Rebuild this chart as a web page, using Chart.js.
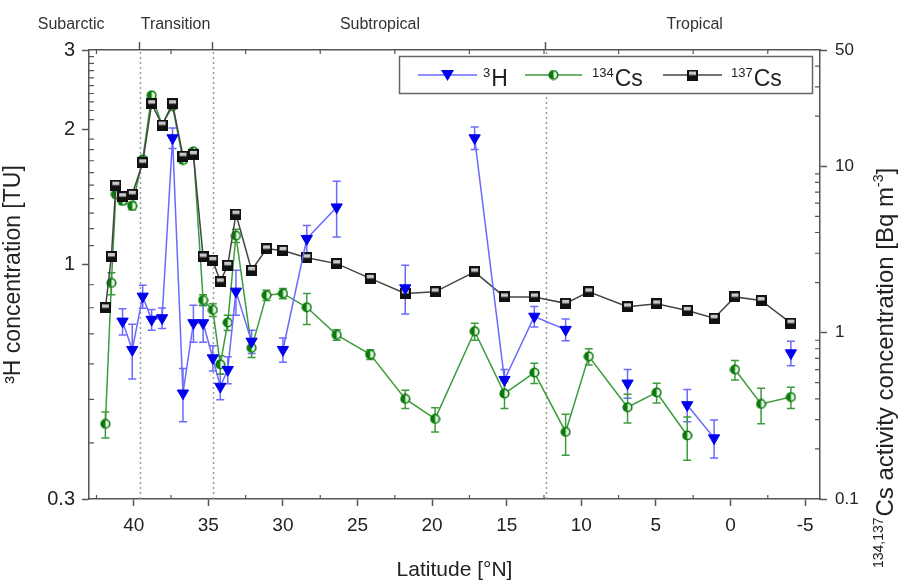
<!DOCTYPE html>
<html>
<head>
<meta charset="utf-8">
<script src="https://cdn.jsdelivr.net/npm/chart.js@4.4.0/dist/chart.umd.min.js"></script>
<style>
html, body { margin: 0; padding: 0; background: #fff; }
</style>
</head>
<body>
<canvas id="chart" width="901" height="587"></canvas>
<script>
// sampling stations, degrees north
const latitudes = [41.9, 41.5, 41.2, 40.75, 40.1, 39.4, 38.8, 38.1, 37.4, 36.7, 36.0, 35.35, 34.7, 34.2, 33.7, 33.15, 32.1, 31.1, 30.0, 28.4, 26.4, 24.15, 21.8, 19.8, 17.15, 15.15, 13.15, 11.05, 9.5, 6.9, 4.95, 2.9, 1.1, -0.3, -2.05, -4.05];

// 3H [TU]
const tritium = [null, null, null, 0.746, 0.645, 0.848, 0.753, 0.759, 1.91, 0.516, 0.74, 0.74, 0.618, 0.534, 0.582, 0.87, 0.673, null, 0.645, 1.14, 1.34, null, 0.885, null, 1.91, 0.553, 0.765, 0.715, null, 0.543, null, 0.486, 0.41, null, null, 0.634];
const tritiumErr = [null, null, null, 0.05, 0.09, 0.05, 0.04, 0.04, 0.1, 0.07, 0.07, 0.07, 0.04, 0.035, 0.04, 0.1, 0.04, null, 0.04, 0.08, 0.19, null, 0.11, null, 0.11, 0.03, 0.04, 0.04, null, 0.04, null, 0.04, 0.04, null, null, 0.04];

// 134Cs [Bq m-3]
const cs134 = [0.283, 1.99, 6.8, 6.19, 5.78, 11, 26.7, 17.7, 23, 10.9, 12.3, 1.57, 1.37, 0.645, 1.15, 3.83, 0.81, 1.68, 1.72, 1.42, 0.97, 0.74, 0.40, 0.303, 1.02, 0.43, 0.575, 0.253, 0.72, 0.356, 0.437, 0.241, null, 0.60, 0.373, 0.41];
const cs134Err = [0.05, 0.3, 0.3, 0.3, 0.3, 0.4, 0.8, 0.6, 0.8, 0.4, 0.4, 0.12, 0.12, 0.08, 0.12, 0.35, 0.1, 0.12, 0.12, 0.3, 0.07, 0.05, 0.05, 0.05, 0.12, 0.08, 0.08, 0.07, 0.08, 0.07, 0.06, 0.07, null, 0.08, 0.09, 0.06];

// 137Cs [Bq m-3]
const cs137 = [1.41, 2.87, 7.7, 6.57, 6.79, 10.5, 23.8, 17.7, 23.8, 11.5, 11.8, 2.85, 2.72, 2.02, 2.54, 5.16, 2.37, 3.19, 3.12, 2.82, 2.6, 2.12, 1.72, 1.76, 2.32, 1.64, 1.64, 1.50, 1.76, 1.43, 1.49, 1.36, 1.22, 1.64, 1.56, 1.14];
const cs137Err = [0.08, 0.15, 0.35, 0.3, 0.3, 0.5, 1.0, 0.8, 1.0, 0.5, 0.5, 0.15, 0.15, 0.1, 0.12, 0.25, 0.12, 0.15, 0.15, 0.13, 0.12, 0.1, 0.08, 0.08, 0.1, 0.08, 0.08, 0.07, 0.08, 0.07, 0.07, 0.07, 0.06, 0.08, 0.07, 0.06];

const latTicks = [40, 35, 30, 25, 20, 15, 10, 5, 0, -5];
const latMinor = [42.5, 37.5, 32.5, 27.5, 22.5, 17.5, 12.5, 7.5, 2.5, -2.5];
const tuTicks = [0.3, 1, 2, 3];
const tuMinor = [0.4, 0.5, 0.6, 0.7, 0.8, 0.9, 1.1, 1.2, 1.3, 1.4, 1.5, 1.6, 1.7, 1.8, 1.9, 2.1, 2.2, 2.3, 2.4, 2.5, 2.6, 2.7, 2.8, 2.9];
const bqTicks = [0.1, 1, 10, 50];
const bqMinor = [0.2, 0.3, 0.4, 0.5, 0.6, 0.7, 0.8, 0.9, 2, 3, 4, 5, 6, 7, 8, 9, 20, 30, 40];

// water mass boundaries and region names
const boundaries = [39.6, 34.7, 12.4];
const regionNames = ['Subarctic', 'Transition', 'Subtropical', 'Tropical'];
const regionCenters = [44.2, 37.2, 23.5, 2.4];

const FONT = "'Liberation Sans', Arial, sans-serif";

const toPoints = (vals) => latitudes.map((x, i) => ({x: x, y: vals[i]}))

const halfCircle = (size, color) => {
    const c = document.createElement('canvas');
    c.width = size; c.height = size;
    const g = c.getContext('2d');
    const m = size / 2, r = size / 2 - 1.2;
    g.fillStyle = '#e8f4e8';
    g.beginPath(); g.arc(m, m, r, 0, Math.PI * 2); g.fill();
    g.fillStyle = color;
    g.beginPath(); g.moveTo(m, m); g.arc(m, m, r, Math.PI / 2, Math.PI * 1.5); g.closePath(); g.fill();
    g.strokeStyle = color; g.lineWidth = 1.6;
    g.beginPath(); g.arc(m, m, r, 0, Math.PI * 2); g.stroke();
    return c;
}

const halfSquare = (size) => {
    const c = document.createElement('canvas');
    c.width = size; c.height = size;
    const g = c.getContext('2d');
    g.fillStyle = '#111';
    g.fillRect(0, 0, size, size);
    g.fillStyle = '#c8c8c8';
    g.fillRect(2, 2, size - 4, size / 2 - 2);
    return c;
}

const greenMark = halfCircle(11, '#0a7a0a');
const blackMark = halfSquare(11);

// draws text with a leading superscript part, left to right from x
const supText = (ctx, x, y, sup, main, supSize, mainSize, tail) => {
    ctx.font = supSize + 'px ' + FONT;
    ctx.fillText(sup, x, y - mainSize * 0.42);
    let w = ctx.measureText(sup).width;
    ctx.font = mainSize + 'px ' + FONT;
    ctx.fillText(main, x + w + 1, y);
    w += 1 + ctx.measureText(main).width;
    if (tail) {
        ctx.font = supSize + 'px ' + FONT;
        ctx.fillText(tail[0], x + w, y - mainSize * 0.42);
        w += ctx.measureText(tail[0]).width;
        ctx.font = mainSize + 'px ' + FONT;
        ctx.fillText(tail[1], x + w, y);
        w += ctx.measureText(tail[1]).width;
    }
    return w;
}

const errorBars = {
    id: 'errorBars',
    beforeDatasetsDraw(chart) {
        const ctx = chart.ctx;
        chart.data.datasets.forEach((ds) => {
            const errs = ds.errors;
            if (!errs) return;
            const ys = chart.scales[ds.yAxisID];
            const xs = chart.scales.x;
            ctx.save();
            ctx.strokeStyle = ds.errColor;
            ctx.lineWidth = 1.5;
            ds.data.forEach((p, i) => {
                if (p.y == null || errs[i] == null) return;
                const px = xs.getPixelForValue(p.x);
                const y1 = ys.getPixelForValue(p.y + errs[i]);
                const y2 = ys.getPixelForValue(Math.max(p.y - errs[i], 0.01));
                ctx.beginPath();
                ctx.moveTo(px, y1); ctx.lineTo(px, y2);
                ctx.moveTo(px - 4, y1); ctx.lineTo(px + 4, y1);
                ctx.moveTo(px - 4, y2); ctx.lineTo(px + 4, y2);
                ctx.stroke();
            });
            ctx.restore();
        });
    }
}

const decorations = {
    id: 'decorations',
    beforeDatasetsDraw(chart) {
        const {ctx, chartArea} = chart;
        const xs = chart.scales.x;
        ctx.save();
        ctx.strokeStyle = '#9a9a9a';
        ctx.lineWidth = 1.5;
        ctx.setLineDash([2, 3]);
        boundaries.forEach(b => {
            const px = Math.round(xs.getPixelForValue(b)) + 0.5;
            ctx.beginPath();
            ctx.moveTo(px, chartArea.top + 2);
            ctx.lineTo(px, chartArea.bottom);
            ctx.stroke();
        });
        ctx.restore();
    },
    afterDraw(chart) {
        const {ctx, chartArea} = chart;
        const xs = chart.scales.x, yl = chart.scales.y, yr = chart.scales.y1;
        ctx.save();
        ctx.strokeStyle = '#555';
        ctx.lineWidth = 1.2;
        ctx.beginPath();
        latMinor.forEach(v => {
            const px = xs.getPixelForValue(v);
            ctx.moveTo(px, chartArea.bottom); ctx.lineTo(px, chartArea.bottom - 4);
            ctx.moveTo(px, chartArea.top); ctx.lineTo(px, chartArea.top + 4);
        });
        tuMinor.forEach(v => {
            const py = yl.getPixelForValue(v);
            ctx.moveTo(chartArea.left, py); ctx.lineTo(chartArea.left + 5, py);
        });
        bqMinor.forEach(v => {
            const py = yr.getPixelForValue(v);
            ctx.moveTo(chartArea.right, py); ctx.lineTo(chartArea.right - 5, py);
        });
        ctx.stroke();

        // region names above the top axis
        ctx.fillStyle = '#333';
        ctx.font = '16px ' + FONT;
        ctx.textAlign = 'center';
        ctx.textBaseline = 'middle';
        regionNames.forEach((name, i) => {
            ctx.fillText(name, xs.getPixelForValue(regionCenters[i]), 25);
        });

        // right axis title, reading bottom to top
        ctx.save();
        ctx.fillStyle = '#222';
        ctx.textAlign = 'left';
        ctx.textBaseline = 'alphabetic';
        ctx.translate(893, 368);
        ctx.rotate(-Math.PI / 2);
        ctx.globalAlpha = 0;
        const tw = supText(ctx, 0, 0, '134,137', 'Cs activity concentration [Bq m', 14, 24, ['-3', ']']);
        ctx.globalAlpha = 1;
        supText(ctx, -tw / 2, 0, '134,137', 'Cs activity concentration [Bq m', 14, 24, ['-3', ']']);
        ctx.restore();

        // legend
        const bx = 399.5, by = 56.5, bw = 413, bh = 37;
        ctx.fillStyle = '#fff';
        ctx.fillRect(bx, by, bw, bh);
        ctx.strokeStyle = '#666';
        ctx.lineWidth = 1.5;
        ctx.strokeRect(bx, by, bw, bh);
        const ly = 75;
        const entry = (x0, x1, color, drawMark, sup, main, tx) => {
            ctx.strokeStyle = color;
            ctx.lineWidth = 1.5;
            ctx.beginPath(); ctx.moveTo(x0, ly); ctx.lineTo(x1, ly); ctx.stroke();
            drawMark((x0 + x1) / 2);
            ctx.fillStyle = '#222';
            ctx.textAlign = 'left';
            ctx.textBaseline = 'alphabetic';
            ctx.font = '13px ' + FONT;
            ctx.fillText(sup, tx, 77);
            const w = ctx.measureText(sup).width;
            ctx.font = '23px ' + FONT;
            ctx.fillText(main, tx + w + 1, 86);
        };
        entry(418, 477, '#6a6aff', (mx) => {
            ctx.fillStyle = '#0000ee';
            ctx.beginPath();
            ctx.moveTo(mx - 6.5, ly - 5); ctx.lineTo(mx + 6.5, ly - 5); ctx.lineTo(mx, ly + 6);
            ctx.closePath(); ctx.fill();
        }, '3', 'H', 483);
        entry(525, 582, '#3c9c3c', (mx) => ctx.drawImage(greenMark, mx - 5.5, ly - 5.5), '134', 'Cs', 592);
        entry(663, 722, '#444', (mx) => ctx.drawImage(blackMark, mx - 5.5, ly - 5.5), '137', 'Cs', 731);
        ctx.restore();
    }
}

const fixedTicks = (vals) => (scale) => {
    scale.ticks = vals.map(v => ({value: v}));
}

const tickFont = (size) => ({family: FONT, size: size});

const chart = new Chart(document.getElementById('chart').getContext('2d'), {
    type: 'line',
    data: {
        datasets: [
            {
                label: '3H',
                data: toPoints(tritium),
                yAxisID: 'y',
                errors: tritiumErr,
                errColor: '#6a6aff',
                borderColor: '#6a6aff',
                borderWidth: 1.5,
                pointStyle: 'triangle',
                rotation: 180,
                pointRadius: 6.5,
                pointBackgroundColor: '#0000ee',
                pointBorderColor: '#0000ee',
                pointBorderWidth: 1,
                spanGaps: false,
                order: 0
            },
            {
                label: '134Cs',
                data: toPoints(cs134),
                yAxisID: 'y1',
                errors: cs134Err,
                errColor: '#3c9c3c',
                borderColor: '#3c9c3c',
                borderWidth: 1.5,
                pointStyle: greenMark,
                spanGaps: false,
                order: 2
            },
            {
                label: '137Cs',
                data: toPoints(cs137),
                yAxisID: 'y1',
                errors: cs137Err,
                errColor: '#444',
                borderColor: '#444',
                borderWidth: 1.5,
                pointStyle: blackMark,
                spanGaps: false,
                order: 1
            }
        ]
    },
    options: {
        responsive: false,
        animation: false,
        devicePixelRatio: 1,
        layout: {padding: 0},
        elements: {line: {tension: 0}},
        plugins: {
            legend: {display: false},
            tooltip: {enabled: false}
        },
        scales: {
            x: {
                type: 'linear',
                position: 'bottom',
                min: -6,
                max: 43,
                reverse: true,
                afterBuildTicks: fixedTicks(latTicks),
                afterFit: (s) => { s.height = 88 },
                grid: {drawOnChartArea: false, drawTicks: true, tickLength: 7, tickColor: '#555', tickWidth: 1.5},
                border: {color: '#555', width: 1.5},
                ticks: {font: tickFont(19), color: '#222', padding: 8, maxRotation: 0, callback: (v) => String(v)},
                title: {display: true, text: 'Latitude [°N]', font: tickFont(21), color: '#222', padding: {top: 0, bottom: 4}}
            },
            xTop: {
                type: 'linear',
                position: 'top',
                min: -6,
                max: 43,
                reverse: true,
                afterBuildTicks: fixedTicks(boundaries),
                afterFit: (s) => { s.height = 50 },
                grid: {drawOnChartArea: false, drawTicks: true, tickLength: 8, tickColor: '#555', tickWidth: 1.5},
                border: {color: '#555', width: 1.5},
                ticks: {display: false}
            },
            y: {
                type: 'logarithmic',
                position: 'left',
                min: 0.3,
                max: 3,
                afterBuildTicks: fixedTicks(tuTicks),
                afterFit: (s) => { s.width = 89 },
                grid: {drawOnChartArea: false, drawTicks: true, tickLength: 7, tickColor: '#555', tickWidth: 1.5},
                border: {color: '#555', width: 1.5},
                ticks: {font: tickFont(20), color: '#222', padding: 7, callback: (v) => String(v)},
                title: {display: true, text: '³H concentration [TU]', font: tickFont(23), color: '#222', padding: {top: 0, bottom: 6}}
            },
            y1: {
                type: 'logarithmic',
                position: 'right',
                min: 0.1,
                max: 50,
                afterBuildTicks: fixedTicks(bqTicks),
                afterFit: (s) => { s.width = 81 },
                grid: {drawOnChartArea: false, drawTicks: true, tickLength: 7, tickColor: '#555', tickWidth: 1.5},
                border: {color: '#555', width: 1.5},
                ticks: {font: tickFont(17), color: '#222', padding: 8, callback: (v) => String(v)}
            }
        }
    },
    plugins: [errorBars, decorations]
});
</script>
</body>
</html>
